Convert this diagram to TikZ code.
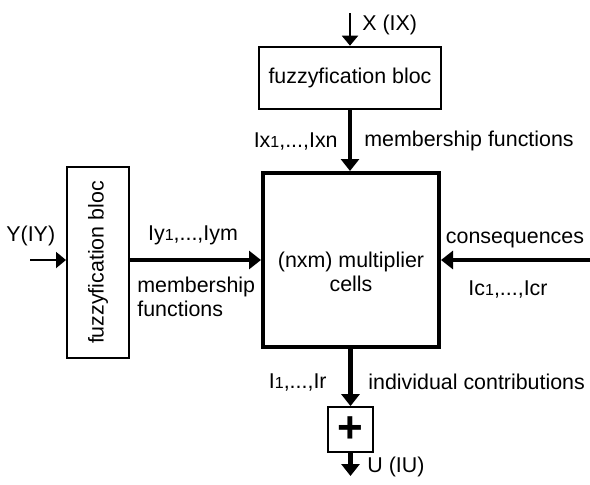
\documentclass[tikz,border=0pt]{standalone}
\usepackage{fontspec}
\setmainfont{Liberation Sans}
\usetikzlibrary{arrows.meta}
\newcommand{\smalldig}[1]{{\fontsize{8}{8}\selectfont #1}}
\tikzset{
  bloc/.style={draw, line width=1.3pt, inner sep=0pt},
  flow/.style={line width=2.2pt, -{Triangle[length=6pt,width=9pt]}},
  feed/.style={line width=1pt, -{Triangle[length=5pt,width=8pt]}},
  lbl/.style={inner sep=0pt, font=\fontsize{10.7}{12}\selectfont},
}
\begin{document}
\begin{tikzpicture}[x=0.5pt,y=-0.5pt]
    \useasboundingbox (0,0) rectangle (590,484);
    % blocs
    \node[bloc, lbl, minimum width=91pt, minimum height=31pt] (topbox) at (350,78) {fuzzyfication bloc};
    \node[bloc, line width=2pt, minimum width=88pt, minimum height=87pt] (mainbox) at (351,260) {};
    \node[lbl, align=center] (celltext) at ([yshift=-6pt]mainbox.center) {(nxm) multiplier\\cells};
    \node[bloc, line width=1pt, minimum width=31pt, minimum height=95.5pt] (leftbox) at (98,262.5) {};
    \node[lbl, rotate=90] (lefttext) at (leftbox.center) {fuzzyfication bloc};
    \node[bloc, line width=0.9pt, minimum width=22.5pt, minimum height=22.5pt, font=\fontsize{22}{22}\selectfont\bfseries] (plusbox) at (350.5,429.5) {+};
    % ends
    \coordinate (xin) at (350,13);
    \coordinate (yin) at (30,260);
    \coordinate (cin) at (590,260);
    \coordinate (uout) at (350.5,476);
    % arrows
    \draw[feed] (xin) -- (topbox.north);
    \draw[flow] (topbox.south) -- (topbox.south |- mainbox.north);
    \draw[feed] (yin) -- (yin -| leftbox.west);
    \draw[flow] (leftbox.east |- mainbox.west) -- (mainbox.west);
    \draw[flow] (cin) -- (mainbox.east);
    \draw[flow] (mainbox.south -| plusbox.north) -- (plusbox.north);
    \draw[flow] (plusbox.south) -- (uout);
    % labels
    \node[lbl, anchor=west] (xlbl) at (362,25) {X (IX)};
    \node[lbl, anchor=east] (ixlbl) at (338,141) {Ix\smalldig{1},...,Ixn};
    \node[lbl, anchor=west] (mflbl) at (364,141) {membership functions};
    \node[lbl, anchor=west] (ylbl) at (6,236) {Y(IY)};
    \node[lbl] (iylbl) at (193,235) {Iy\smalldig{1},...,Iym};
    \node[lbl, anchor=north west, align=left] (mf2lbl) at (137,277) {membership\\functions};
    \node[lbl] (conslbl) at (515,240) {consequences};
    \node[lbl] (iclbl) at (508,289) {Ic\smalldig{1},...,Icr};
    \node[lbl, anchor=east] (ilbl) at (327,382) {I\smalldig{1},...,Ir};
    \node[lbl, anchor=west] (iclbl2) at (368,382) {individual contributions};
    \node[lbl, anchor=west] (ulbl) at (367,467) {U (IU)};
\end{tikzpicture}
\end{document}
